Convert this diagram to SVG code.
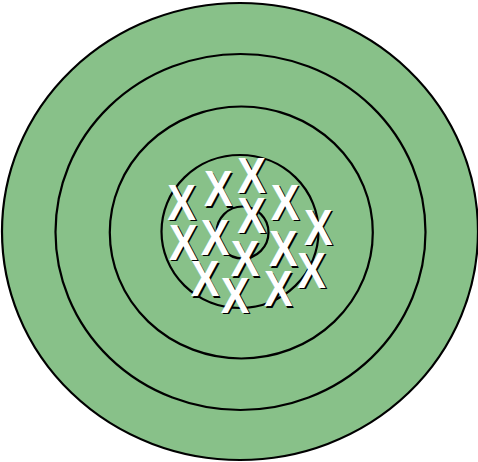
<svg xmlns="http://www.w3.org/2000/svg" width="478" height="462" viewBox="0 0 478 462">
<style>
.ring{fill:#88c189;stroke:#000;stroke-width:2.2}
.x text{font-family:"Liberation Sans",Arial,sans-serif;font-size:50px;font-weight:bold;text-anchor:middle}
.x .s{fill:#000}
.x .w{fill:#fff}
</style>
<g id="rings">
<ellipse class="ring" cx="240" cy="231.5" rx="238" ry="228.5"/>
<ellipse class="ring" cx="240.5" cy="232" rx="185" ry="178"/>
<ellipse class="ring" cx="241.3" cy="232.5" rx="131.5" ry="126"/>
<ellipse class="ring" cx="240" cy="231.5" rx="78.5" ry="76.5"/>
<circle class="ring" cx="242.5" cy="232.5" r="26"/>
</g>
<g id="marks">
<g id="x1" class="x" transform="translate(181.7,219.5) scale(0.86,1)"><text class="s" x="1.8" y="1.6">X</text><text class="w">X</text></g>
<g id="x2" class="x" transform="translate(218.3,206) scale(0.86,1)"><text class="s" x="1.8" y="1.6">X</text><text class="w">X</text></g>
<g id="x3" class="x" transform="translate(251.7,192.5) scale(0.86,1)"><text class="s" x="1.8" y="1.6">X</text><text class="w">X</text></g>
<g id="x4" class="x" transform="translate(285,219.5) scale(0.86,1)"><text class="s" x="1.8" y="1.6">X</text><text class="w">X</text></g>
<g id="x5" class="x" transform="translate(318.3,244.5) scale(0.86,1)"><text class="s" x="1.8" y="1.6">X</text><text class="w">X</text></g>
<g id="x6" class="x" transform="translate(251.7,232.5) scale(0.86,1)"><text class="s" x="1.8" y="1.6">X</text><text class="w">X</text></g>
<g id="x7" class="x" transform="translate(183.3,259.5) scale(0.86,1)"><text class="s" x="1.8" y="1.6">X</text><text class="w">X</text></g>
<g id="x8" class="x" transform="translate(215,254.5) scale(0.86,1)"><text class="s" x="1.8" y="1.6">X</text><text class="w">X</text></g>
<g id="x9" class="x" transform="translate(245,276) scale(0.86,1)"><text class="s" x="1.8" y="1.6">X</text><text class="w">X</text></g>
<g id="x10" class="x" transform="translate(283.3,266) scale(0.86,1)"><text class="s" x="1.8" y="1.6">X</text><text class="w">X</text></g>
<g id="x11" class="x" transform="translate(311.7,287.5) scale(0.86,1)"><text class="s" x="1.8" y="1.6">X</text><text class="w">X</text></g>
<g id="x12" class="x" transform="translate(205,296) scale(0.86,1)"><text class="s" x="1.8" y="1.6">X</text><text class="w">X</text></g>
<g id="x13" class="x" transform="translate(235,312.5) scale(0.86,1)"><text class="s" x="1.8" y="1.6">X</text><text class="w">X</text></g>
<g id="x14" class="x" transform="translate(278.3,306) scale(0.86,1)"><text class="s" x="1.8" y="1.6">X</text><text class="w">X</text></g>
</g>
</svg>
